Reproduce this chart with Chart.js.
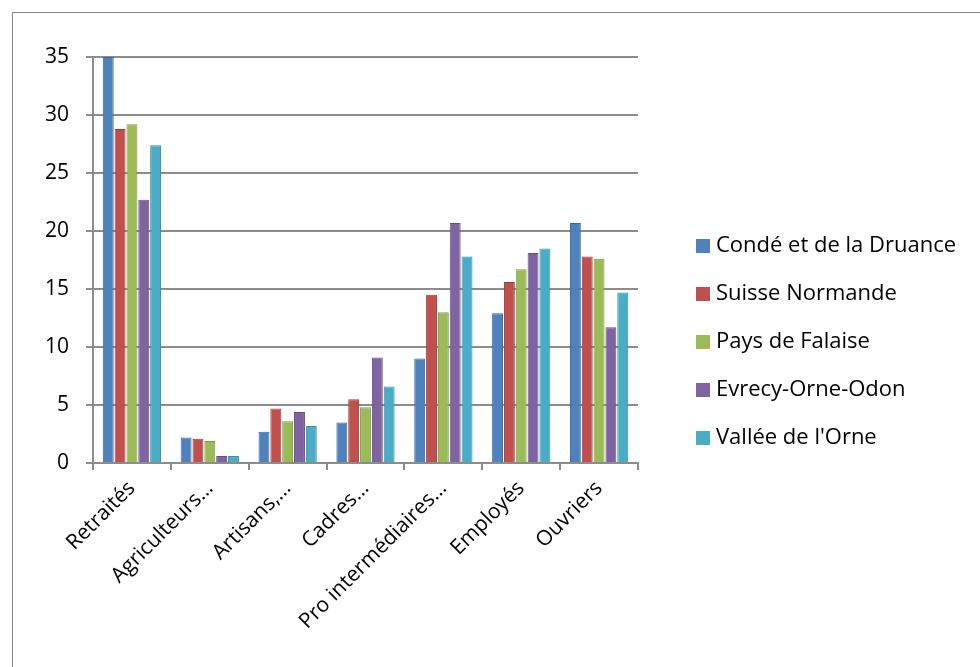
<!DOCTYPE html>
<html>
<head>
<meta charset="utf-8">
<script src="https://cdn.jsdelivr.net/npm/chart.js@4"></script>
<style>
  html, body { margin: 0; padding: 0; background: #fff; }
  #wrap { position: relative; width: 980px; height: 667px; overflow: hidden; }
  #frame { position: absolute; left: 12px; top: 12px; width: 1000px; height: 700px; border: 1px solid #868686; }
  canvas { position: absolute; left: 0; top: 0; }
</style>
</head>
<body>
<div id="wrap">
  <div id="frame"></div>
  <canvas id="chart" width="980" height="667"></canvas>
</div>
<script>
// categories and series
const categories = ['Retraités', 'Agriculteurs…', 'Artisans,…', 'Cadres…', 'Pro intermédiaires…', 'Employés', 'Ouvriers'];
const seriesNames = ['Condé et de la Druance', 'Suisse Normande', 'Pays de Falaise', 'Evrecy-Orne-Odon', "Vallée de l'Orne"];
const conde    = [35.0, 2.2, 2.7, 3.5, 9.0, 12.9, 20.7];
const suisse   = [28.8, 2.1, 4.7, 5.5, 14.5, 15.6, 17.8];
const falaise  = [29.2, 1.9, 3.6, 4.8, 13.0, 16.7, 17.6];
const evrecy   = [22.7, 0.6, 4.4, 9.1, 20.7, 18.1, 11.7];
const valleeOrne = [27.4, 0.6, 3.2, 6.6, 17.8, 18.5, 14.7];
const yTicks = [0, 5, 10, 15, 20, 25, 30, 35];

const colors = ['#4F81BD', '#C0504D', '#9BBB59', '#8064A2', '#4BACC6'];
const borders = ['#3A6A9F', '#9E3B38', '#7E9C45', '#664E86', '#3590A8'];
const seriesValues = [conde, suisse, falaise, evrecy, valleeOrne];

const FONT = "'Open Sans', 'Liberation Sans', sans-serif";

// legend drawn on the right, vertical list
const sideLegend = {
  id: 'sideLegend',
  afterDraw(chart) {
    const ctx = chart.ctx;
    ctx.save();
    ctx.font = '22px ' + FONT;
    ctx.textBaseline = 'middle';
    ctx.textAlign = 'left';
    chart.data.datasets.forEach((ds, i) => {
      const y = 246 + i * 48;
      ctx.fillStyle = ds.backgroundColor;
      ctx.fillRect(696, y - 7, 14, 14);
      ctx.fillStyle = '#000';
      ctx.fillText(ds.label, 716, y);
    });
    ctx.restore();
  }
};

new Chart(document.getElementById('chart'), {
  type: 'bar',
  data: {
    labels: categories,
    datasets: seriesNames.map((name, i) => ({
      label: name,
      data: seriesValues[i],
      backgroundColor: colors[i],
      borderColor: borders[i],
      borderWidth: 1,
      categoryPercentage: 0.76,
      barPercentage: 0.92
    }))
  },
  options: {
    responsive: false,
    animation: false,
    layout: { padding: { top: 57, left: 0, right: 342, bottom: 0 } },
    plugins: {
      legend: { display: false },
      tooltip: { enabled: false }
    },
    scales: {
      y: {
        min: 0,
        max: 35,
        afterBuildTicks(scale) { scale.ticks = yTicks.map(v => ({ value: v })); },
        afterFit(scale) { scale.width = 93; },
        border: { color: '#8c8c8c', width: 2 },
        grid: { color: '#8c8c8c', lineWidth: 2, tickLength: 7 },
        ticks: { color: '#000', padding: 17, font: { family: FONT, size: 21 } }
      },
      x: {
        afterFit(scale) { scale.height = 204; },
        border: { color: '#8c8c8c', width: 2 },
        grid: { drawOnChartArea: false, color: '#8c8c8c', lineWidth: 2, tickLength: 7 },
        ticks: {
          color: '#000', minRotation: 45, maxRotation: 45, padding: 6,
          font: { family: FONT, size: 21 }
        }
      }
    }
  },
  plugins: [sideLegend]
});
</script>
</body>
</html>
